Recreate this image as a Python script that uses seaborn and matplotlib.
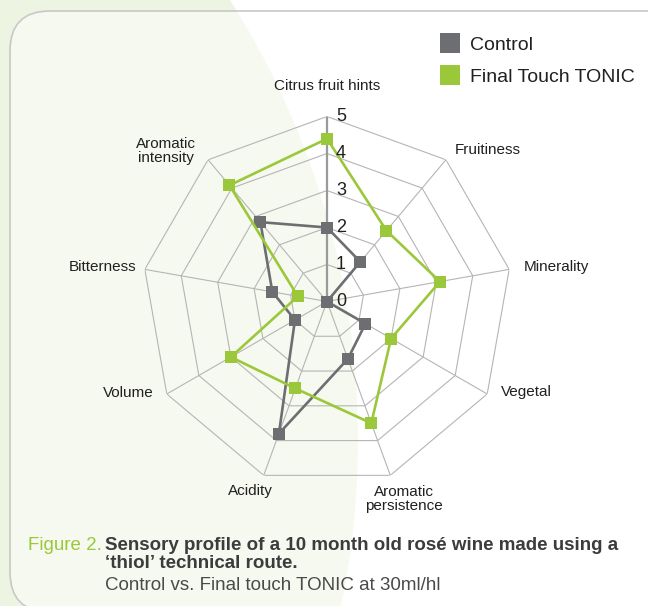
import numpy as np
import pandas as pd
import seaborn as sns
import matplotlib.pyplot as plt
from matplotlib.lines import Line2D
from matplotlib.patches import Circle, FancyBboxPatch
from matplotlib.transforms import offset_copy

# Sensory profile data (scores 0-5)
attributes = ["Citrus fruit hints", "Fruitiness", "Minerality", "Vegetal",
              "Aromatic\npersistence", "Acidity", "Volume", "Bitterness",
              "Aromatic\nintensity"]
control = [2.0, 1.4, 0.0, 1.2, 1.65, 3.8, 1.0, 1.5, 2.8]
tonic = [4.4, 2.5, 3.1, 2.0, 3.5, 2.5, 3.0, 0.8, 4.1]
series_names = ["Control", "Final Touch TONIC"]
ring_ticks = [0, 1, 2, 3, 4, 5]

# label offsets from the outer vertex, in pixels (layout only)
label_offsets = [(0, 31), (42, 10), (47, 2), (39, 2), (14, -24),
                 (-13, -16), (-38, 1), (-42, 2), (-42, 9)]

gray = "#6d6e71"
green = "#9bc83a"
text_col = "#231f20"

sns.set_style("white")
plt.rcParams['font.family'] = ['Liberation Sans', 'DejaVu Sans']

W, H = 648, 606
fig = plt.figure(figsize=(W / 100, H / 100), dpi=100)

# background panel
bg = fig.add_axes([0, 0, 1, 1], zorder=-1)
bg.set_xlim(0, W)
bg.set_ylim(H, 0)
bg.axis("off")
bg.add_patch(Circle((-462, 440), 820, facecolor="#edf4e1", edgecolor="none"))
bg.add_patch(FancyBboxPatch((10, 11), 690, 601,
                            boxstyle="round,pad=0,rounding_size=40",
                            facecolor=(1, 1, 1, 0.5), edgecolor="#c8c8c8", lw=1.2))

# radar axes
cx, cy, rad = 327, 301.5, 185
ax = fig.add_axes([(cx - rad) / W, (H - cy - rad) / H, 2 * rad / W, 2 * rad / H],
                  projection="polar")
ax.set_facecolor("none")
ax.set_theta_zero_location("N")
ax.set_theta_direction(-1)
ax.set_ylim(0, 5)
ax.grid(False)
ax.spines["polar"].set_visible(False)
ax.set_xticks([])
ax.set_yticks([])

n = len(attributes)
angles = np.linspace(0, 2 * np.pi, n, endpoint=False)
closed = np.append(angles, 2 * np.pi)

for k in ring_ticks[1:]:
    ax.plot(closed, [k] * (n + 1), color="#b5b5b5", lw=0.8, zorder=1)
for i, a in enumerate(angles):
    if i == 0:
        ax.plot([a, a], [0, 5], color="#9a9a9a", lw=1.6, zorder=1)
    else:
        ax.plot([a, a], [0, 5], color="#b5b5b5", lw=0.8, zorder=1)

df = pd.DataFrame({
    "theta": np.concatenate([closed, closed]),
    "score": control + control[:1] + tonic + tonic[:1],
    "sample": [series_names[0]] * (n + 1) + [series_names[1]] * (n + 1),
})
sns.lineplot(data=df, x="theta", y="score", hue="sample", hue_order=series_names,
             palette=[gray, green], sort=False, marker="s", markersize=8,
             markeredgewidth=0, lw=1.9, legend=False, ax=ax, zorder=3)
ax.set_xlabel("")
ax.set_ylabel("")

# tick labels on the top axis
tick_tr = offset_copy(ax.transData, fig=fig, x=9, y=0, units="dots")
for k in ring_ticks:
    ax.text(0, k, str(k), transform=tick_tr, ha="left", va="center",
            fontsize=13, color=text_col, zorder=4)

# attribute labels
for a, lab, (dx, dy) in zip(angles, attributes, label_offsets):
    tr = offset_copy(ax.transData, fig=fig, x=dx, y=dy, units="dots")
    ax.text(a, 5, lab, transform=tr, ha="center", va="center",
            multialignment="center", fontsize=11, color=text_col,
            linespacing=1.0)

# legend
handles = [Line2D([], [], marker="s", ls="none", color=c, markersize=14.5,
                  markeredgewidth=0) for c in (gray, green)]
fig.legend(handles, series_names, loc="upper left",
           bbox_to_anchor=(440 / W, 1 - 36 / H), frameon=False, fontsize=14,
           handlelength=1.0, handletextpad=0.55, labelspacing=0.75,
           borderpad=0, borderaxespad=0, labelcolor=text_col)

# caption
fig.text(28 / W, 1 - 545 / H, "Figure 2.", color=green, fontsize=13.5, va="center")
fig.text(105 / W, 1 - 545 / H,
         "Sensory profile of a 10 month old rosé wine made using a",
         color="#3c3c3c", fontsize=13.5, fontweight="bold", va="center")
fig.text(105 / W, 1 - 564 / H, "‘thiol’ technical route.",
         color="#3c3c3c", fontsize=13.5, fontweight="bold", va="center")
fig.text(105 / W, 1 - 585 / H, "Control vs. Final touch TONIC at 30ml/hl",
         color="#4a4a4a", fontsize=13.5, va="center")

fig.savefig("out.png", dpi=100)
